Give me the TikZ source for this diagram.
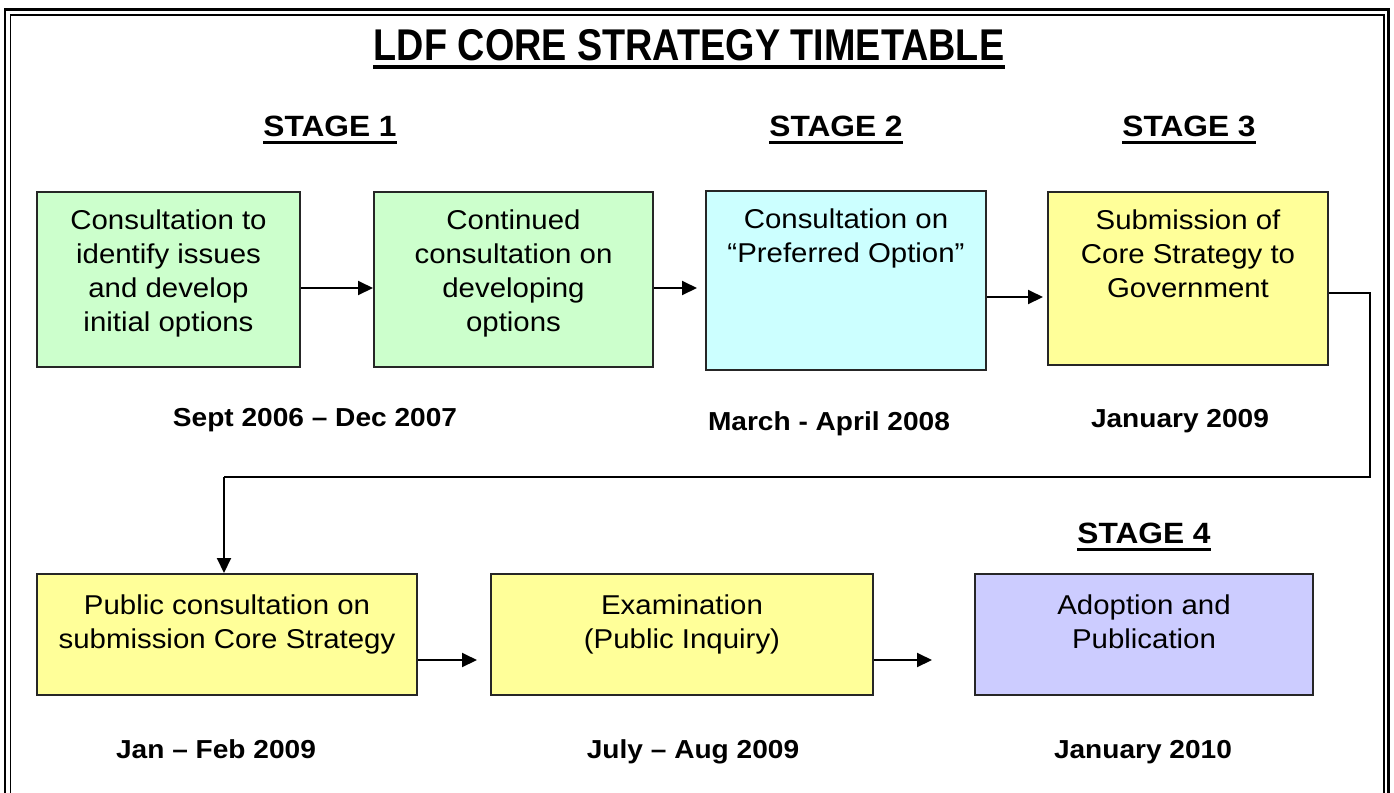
\documentclass[tikz,border=0pt]{standalone}
\usepackage{fontspec}
\setmainfont{Liberation Sans}[FakeStretch=1.08]
\newfontfamily\titlefont{Liberation Sans}[FakeStretch=0.85]
\usetikzlibrary{fit,arrows.meta}

\definecolor{stageA}{HTML}{CCFFCC}
\definecolor{stageB}{HTML}{CCFFFF}
\definecolor{stageC}{HTML}{FFFF99}
\definecolor{stageD}{HTML}{CCCCFF}

\tikzset{
  box/.style={draw=black!85, line width=0.04cm, inner sep=0pt},
  boxtext/.style={anchor=north, align=center, inner sep=0pt,
    font=\fontsize{15.5}{19.5}\selectfont},
  heading/.style={anchor=base, inner sep=0pt, font=\bfseries\fontsize{16.7}{20}\selectfont},
  datelabel/.style={anchor=base, inner sep=0pt, font=\bfseries\fontsize{14.8}{18}\selectfont},
  flow/.style={line width=0.04cm, -{Triangle[length=0.3cm, width=0.28cm]}},
  ulthin/.style={line width=0.05cm},
  ulthick/.style={line width=0.08cm}
}

\begin{document}
\begin{tikzpicture}[x=0.02cm, y=-0.02cm]
\useasboundingbox (0,0) rectangle (1394,792);
\clip (0,0) rectangle (1394,792);

% double frame round the page (open at the bottom)
\draw[line width=0.06cm] (5,9) rectangle (1388,820);
\draw[line width=0.04cm] (10.5,14.5) rectangle (1383.5,820);

% title
\node[anchor=base, inner sep=0pt, font=\titlefont\bfseries\fontsize{25.3}{30}\selectfont]
  (title) at (689,60) {LDF CORE STRATEGY TIMETABLE};
\draw[ulthick] ([yshift=-0.14cm]title.base west) -- ([yshift=-0.14cm]title.base east);

% stage headings
\node[heading] (s1) at (330,136) {STAGE 1};
\node[heading] (s2) at (836,136) {STAGE 2};
\node[heading] (s3) at (1189,136) {STAGE 3};
\node[heading] (s4) at (1144,543) {STAGE 4};
\foreach \s in {s1,s2,s3,s4}
  \draw[ulthin] ([yshift=-0.13cm]\s.base west) -- ([yshift=-0.13cm]\s.base east);

% first row of boxes
\node[box, fill=stageA, fit={(37,192)(300,367)}] (b1) {};
\node[box, fill=stageA, fit={(374,192)(653,367)}] (b2) {};
\node[box, fill=stageB, fit={(706,191)(986,370)}] (b3) {};
\node[box, fill=stageC, fit={(1048,192)(1328,365)}] (b4) {};

\node[boxtext] (t1) at ([yshift=-0.36cm]b1.north) {Consultation to\\identify issues\\and develop\\initial options};
\node[boxtext] (t2) at ([yshift=-0.36cm]b2.north) {Continued\\consultation on\\developing\\options};
\node[boxtext] (t3) at ([yshift=-0.36cm]b3.north) {Consultation on\\“Preferred Option”};
\node[boxtext] (t4) at ([yshift=-0.36cm]b4.north) {Submission of\\Core Strategy to\\Government};

% second row of boxes
\node[box, fill=stageC, fit={(37,574)(417,695)}] (b5) {};
\node[box, fill=stageC, fit={(491,574)(873,695)}] (b6) {};
\node[box, fill=stageD, fit={(975,574)(1313,695)}] (b7) {};

\node[boxtext] (t5) at ([yshift=-0.42cm]b5.north) {Public consultation on\\submission Core Strategy};
\node[boxtext] (t6) at ([yshift=-0.42cm]b6.north) {Examination\\(Public Inquiry)};
\node[boxtext] (t7) at ([yshift=-0.42cm]b7.north) {Adoption and\\Publication};

% dates
\node[datelabel] (d1) at (315,426) {Sept 2006 – Dec 2007};
\node[datelabel] (d2) at (829,430) {March - April 2008};
\node[datelabel] (d3) at (1180,427) {January 2009};
\node[datelabel] (d5) at (216,758) {Jan – Feb 2009};
\node[datelabel] (d6) at (693,758) {July – Aug 2009};
\node[datelabel] (d7) at (1143,758) {January 2010};

% arrow ends
\coordinate (e12) at (373,288);
\coordinate (e23) at (697,288);
\coordinate (e34) at (1043,297);
\coordinate (e56) at (477,660);
\coordinate (e67) at (932,660);

\draw[flow] (b1.east |- e12) -- (e12);
\draw[flow] (b2.east |- e23) -- (e23);
\draw[flow] (b3.east |- e34) -- (e34);
\draw[flow] (b5.east |- e56) -- (e56);
\draw[flow] (b6.east |- e67) -- (e67);

% link from the end of the first row down to the second row
\coordinate (r1) at (1370,293);
\coordinate (r2) at (1370,477);
\coordinate (r3) at (224,477);
\draw[line width=0.03cm] (b4.east |- r1) -- (r1) -- (r2) -- (r3);
\draw[flow] (r3) -- (r3 |- b5.north);
\end{tikzpicture}
\end{document}
